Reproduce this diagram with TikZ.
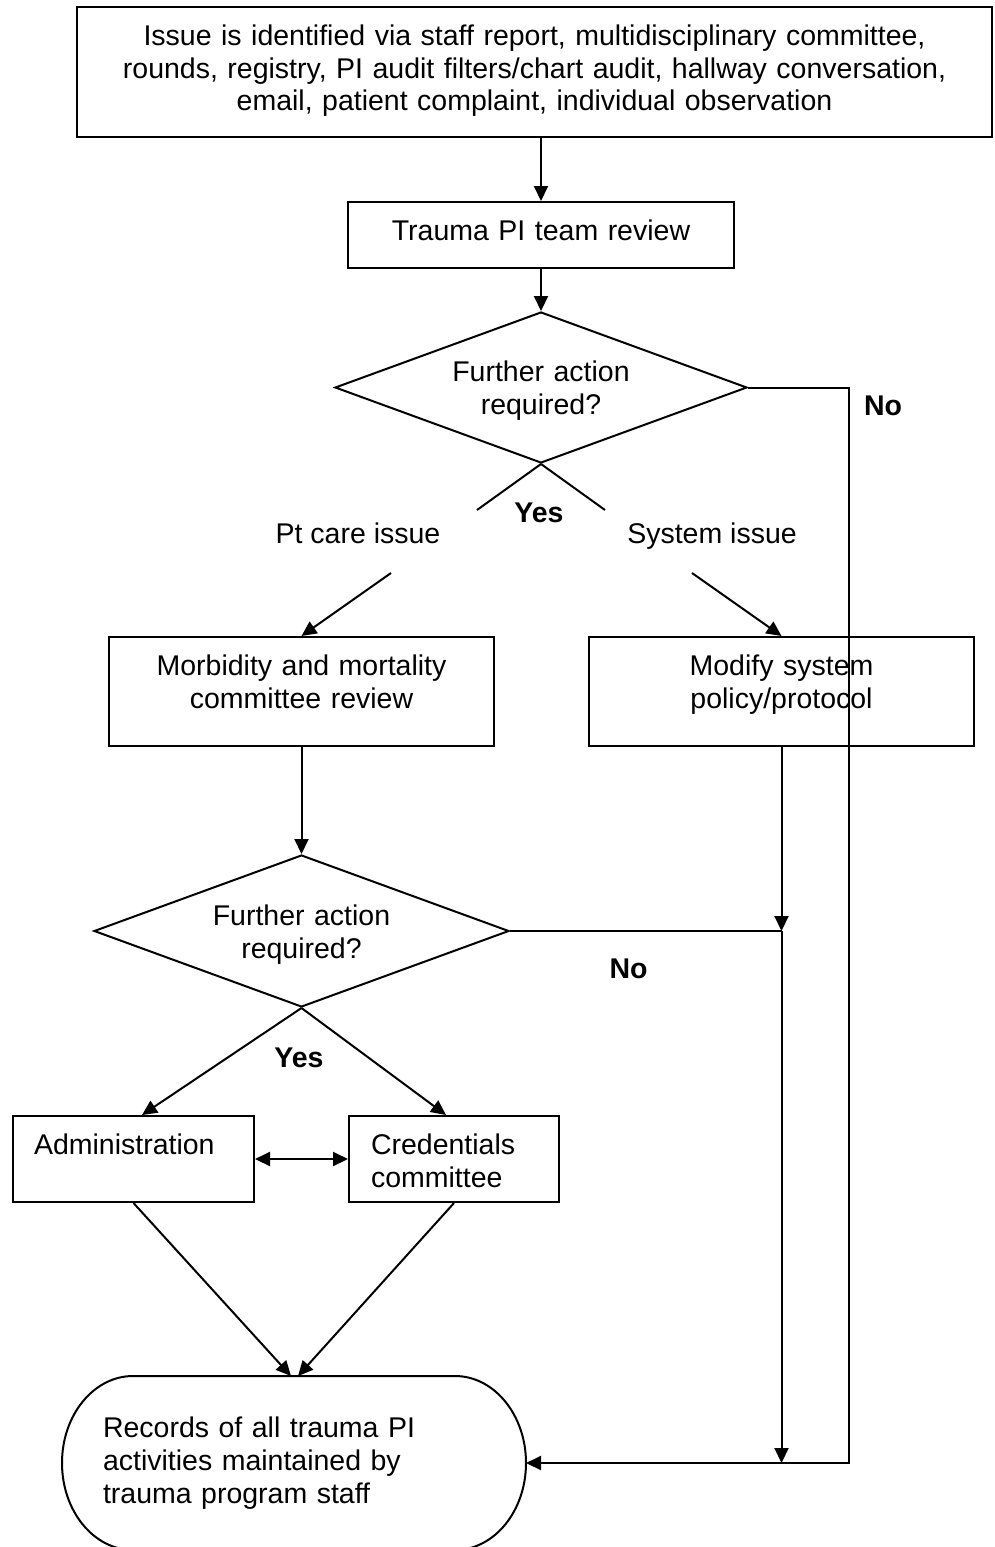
\documentclass[tikz,border=0pt]{standalone}
\usepackage{fontspec}
\setmainfont{Liberation Sans}
\usetikzlibrary{arrows.meta,positioning,shapes.geometric}
\tikzstyle{box}=[draw, inner sep=0pt, align=center]
\tikzstyle{decision}=[diamond, draw, aspect=2.7, inner sep=0pt, align=center, text width=200pt, text height=24pt, text depth=36pt]
\tikzstyle{lbl}=[anchor=base, inner sep=0pt]
\tikzstyle{yesno}=[lbl, font=\bfseries\fontsize{28.5}{33}\selectfont]

\begin{document}
\begin{tikzpicture}[x=1pt,y=1pt,>={Triangle[length=15pt,width=14pt]},line width=2pt,font=\fontsize{28.5}{33}\selectfont]
    \useasboundingbox (0,0) rectangle (994,-1547);
    \node [box, text width=915pt, text height=38pt, text depth=92pt] (issue) at (534.5,-72) {Issue is identified via staff report, multidisciplinary committee,\\rounds, registry, PI audit filters/chart audit, hallway conversation,\\email, patient complaint, individual observation};
    \node [box, text width=386pt, text height=38pt, text depth=28pt] (review) at (541,-235) {Trauma PI team review};
    \node [decision, minimum width=412pt, minimum height=151pt] (dec1) at (541,-387.5) {Further action\\required?};
    \node [yesno] (no1) at (883,-415) {No};
    \node [yesno] (yes1) at (539,-522) {Yes};
    \node [lbl] (ptcare) at (358,-543) {Pt care issue};
    \node [lbl] (system) at (712,-543) {System issue};
    \node [box, text width=385pt, text height=38pt, text depth=71pt] (morb) at (301.5,-691.5) {Morbidity and mortality\\committee review};
    \node [box, text width=385pt, text height=38pt, text depth=71pt] (modify) at (781.5,-691.5) {Modify system\\policy/protocol};
    \node [decision, minimum width=415pt, minimum height=152pt] (dec2) at (301.5,-931) {Further action\\required?};
    \node [yesno] (no2) at (628.5,-978) {No};
    \node [yesno] (yes2) at (299,-1067) {Yes};
    \node [box, align=left, text width=199pt, inner xsep=21pt, text height=38pt, text depth=48pt] (admin) at (133.5,-1159) {Administration};
    \node [box, align=left, text width=166pt, inner xsep=22pt, text height=38pt, text depth=48pt] (cred) at (454,-1159) {Credentials\\committee};
    \node [align=left, text width=382pt, inner xsep=41pt, inner ysep=0pt, outer sep=0pt, text height=61pt, text depth=113pt] (rec) at (294,-1463) {Records of all trauma PI\\activities maintained by\\trauma program staff};
    % rounded outline of the records node
    \draw (rec.north) -- ([xshift=-71pt]rec.north east)
        arc[start angle=90, end angle=-90, x radius=71pt, y radius=87pt]
        -- ([xshift=71pt]rec.south west)
        arc[start angle=270, end angle=90, x radius=71pt, y radius=87pt] -- cycle;

    \coordinate (yesl) at (477,-510);
    \coordinate (yesr) at (605,-510);
    \coordinate (ptstart) at (391,-573);
    \coordinate (sysstart) at (692,-573);
    \coordinate (nocorner) at (849,-387.5);
    \coordinate (join1) at (modify.south |- dec2.east);
    \coordinate (join2) at (modify.south |- rec.east);

    \path[->]
    (review.north |- issue.south) edge (review)
    (review) edge (dec1)
    (ptstart) edge (morb.north)
    (sysstart) edge (modify.north)
    (morb) edge (dec2)
    (modify) edge (join1)
    (join1) edge (join2)
    (dec2.south) edge ([xshift=8.5pt]admin.north)
    (dec2.south) edge ([xshift=-8pt]cred.north)
    (admin.south) edge ([xshift=-3pt]rec.north)
    (cred.south) edge ([xshift=4pt]rec.north);
    \path[<->] (admin) edge (cred);
    \draw (dec1.south) -- (yesl) (dec1.south) -- (yesr);
    \draw (dec2.east) -- (join1);
    \draw[->] (dec1.east) -- (nocorner) |- (rec.east);
\end{tikzpicture}
\end{document}
